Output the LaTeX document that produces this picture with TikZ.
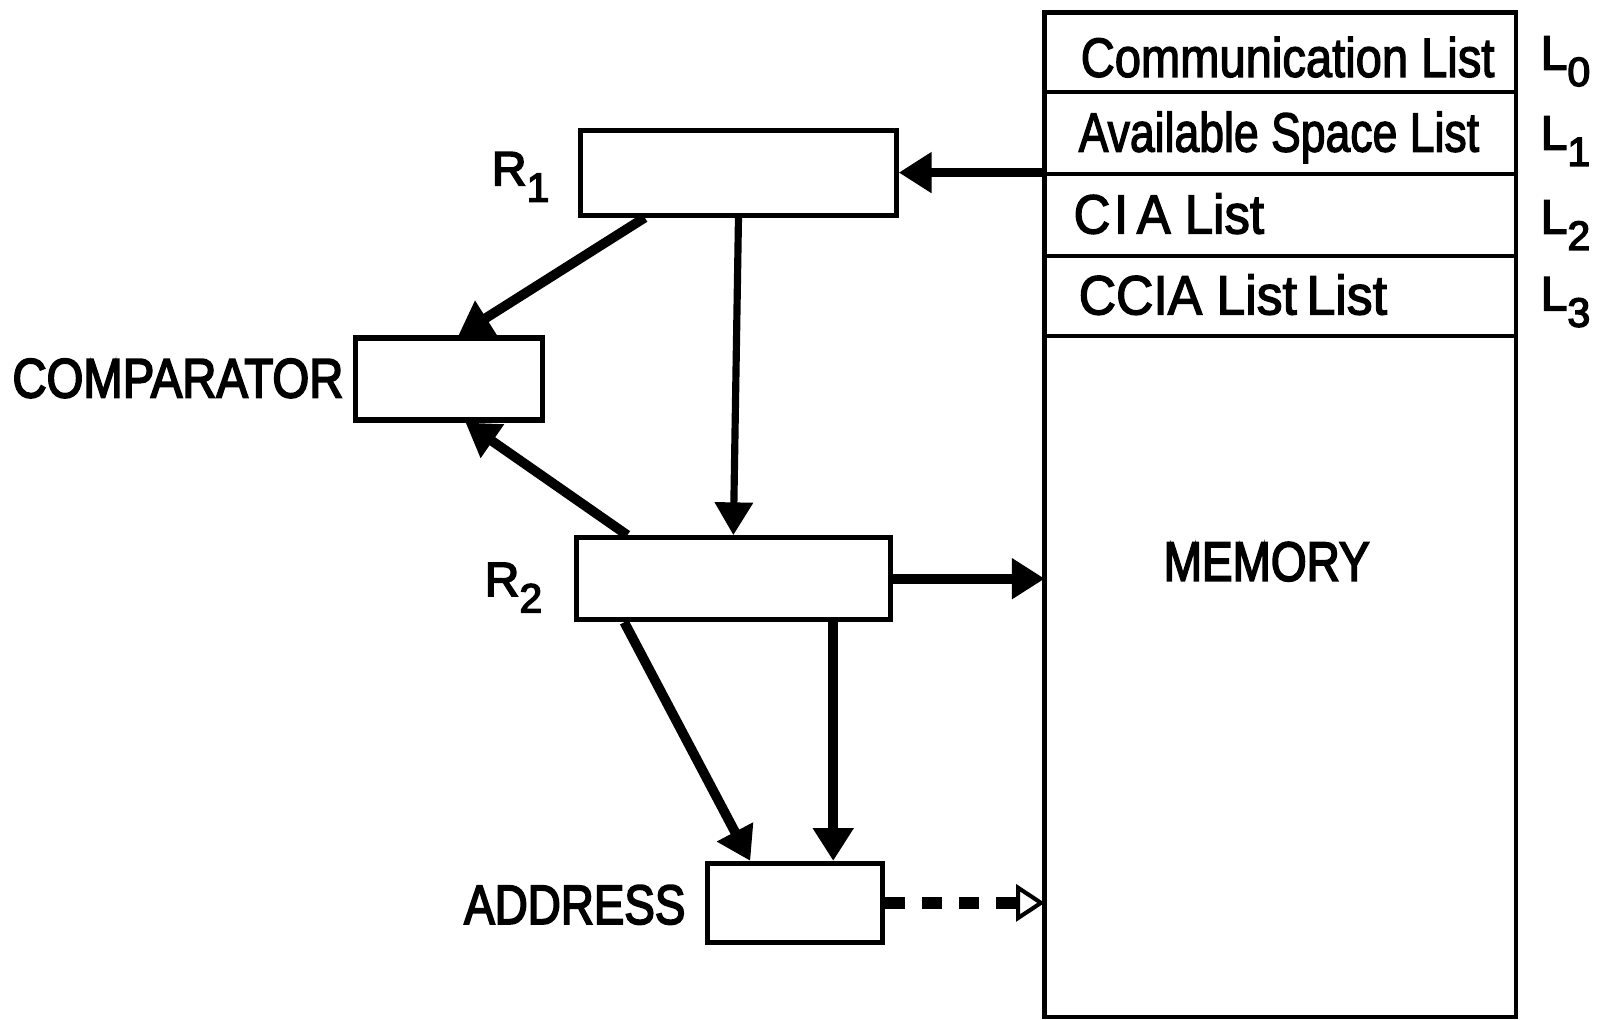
\documentclass[tikz,border=0pt]{standalone}
\usepackage{fontspec}
\setmainfont{Liberation Sans}[FakeBold=2.5]
\newfontfamily\capsfont{Liberation Sans}[FakeBold=3.5]
\usepackage{graphicx}
\usetikzlibrary{arrows.meta,calc}
% squeeze a text horizontally to a given width, keeping its height
\newcommand\fitw[2]{\resizebox{#1}{\height}{#2}}
% register / list label with a lowered index
\newcommand\reglab[2]{#1\raisebox{-16pt}{\fontsize{40pt}{40pt}\selectfont #2}}

\begin{document}
\begin{tikzpicture}[x=1pt,y=-1pt,
  box/.style={draw, line width=5pt, rectangle, inner sep=0pt},
  rowbox/.style={draw, line width=4.5pt, rectangle, inner sep=0pt, outer sep=0pt,
    anchor=north west, minimum width=460pt},
  txt/.style={inner sep=0pt, anchor=base west, font=\fontsize{54pt}{54pt}\selectfont},
  captxt/.style={txt, font=\capsfont\fontsize{54pt}{54pt}\selectfont},
  idx/.style={inner sep=0pt, anchor=base west, font=\capsfont\fontsize{47pt}{47pt}\selectfont},
  link/.style={line width=9.5pt, -{Triangle[length=32pt,width=38pt]}},
  thinlink/.style={line width=7pt, -{Triangle[length=32pt,width=36pt]}},
  dashlink/.style={line width=11pt, dash pattern=on 19pt off 17pt,
    -{Triangle[open,length=28pt,width=36pt,line width=4pt,fill=white]}}
]
% page
\fill[white] (0,0) rectangle (1568,995);

% registers and units
\node[box, minimum width=308pt, minimum height=83pt] (r1) at (721,168.5) {};
\node[box, minimum width=183pt, minimum height=80pt] (cmp) at (438.5,370) {};
\node[box, minimum width=306pt, minimum height=80pt] (r2) at (716,565) {};
\node[box, minimum width=171pt, minimum height=77pt] (addr) at (776.5,881.5) {};

% memory with its four list headers
\node[rowbox, anchor=center, minimum height=981pt] (mem) at (1250,502.5) {};
\node[rowbox, minimum height=78pt] (l0) at (mem.north west) {};
\node[rowbox, minimum height=80pt] (l1) at (l0.south west) {};
\node[rowbox, minimum height=80pt] (l2) at (l1.south west) {};
\node[rowbox, minimum height=78pt] (l3) at (l2.south west) {};

% texts
\node[txt] (tcomm) at (1055,75) {\fitw{404pt}{Communication List}};
\node[txt] (tavail) at (1053,148) {\fitw{391pt}{Available Space List}};
\node[txt] (tcia) at (1048,228) {\fitw{186pt}{C\kern4pt I\kern9pt A List}};
\node[txt] (tccia) at (1053,307) {\fitw{301pt}{CCIA List\kern10pt List}};
\node[captxt] (tmem) at (1136,567) {\fitw{201pt}{MEMORY}};
\node[captxt] (tcmp) at (12,388) {\fitw{323pt}{COMPARATOR}};
\node[captxt] (taddr) at (453,902) {\fitw{216pt}{ADDRESS}};

\node[idx] (n0) at (1504,68) {\reglab{L}{0}};
\node[idx] (n1) at (1504,146) {\reglab{L}{1}};
\node[idx] (n2) at (1504,228) {\reglab{L}{2}};
\node[idx] (n3) at (1504,303) {\reglab{L}{3}};
\node[idx] (nr1) at (480,181) {\reglab{R}{1}};
\node[idx] (nr2) at (473,582) {\reglab{R}{2}};

% data paths
\draw[link] (mem.west |- r1.east) -- (r1.east);
\draw[link] ($(r1.south west)+(65,0)$) -- ($(cmp.north west)+(103,0)$);
\draw[thinlink] (r1.south) -- (r2.north);
\draw[link] ($(r2.north west)+(52,0)$) -- ($(cmp.south west)+(110,0)$);
\draw[link] (r2.east) -- (mem.west |- r2.east);
\draw[link] ($(r2.south west)+(49,0)$) -- ($(addr.north west)+(44,0)$);
\draw[link] ($(r2.south west)+(253,0)$) -- ($(addr.north west)+(125,0)$);
\draw[dashlink] (addr.east) -- (mem.west |- addr.east);
\end{tikzpicture}
\end{document}
